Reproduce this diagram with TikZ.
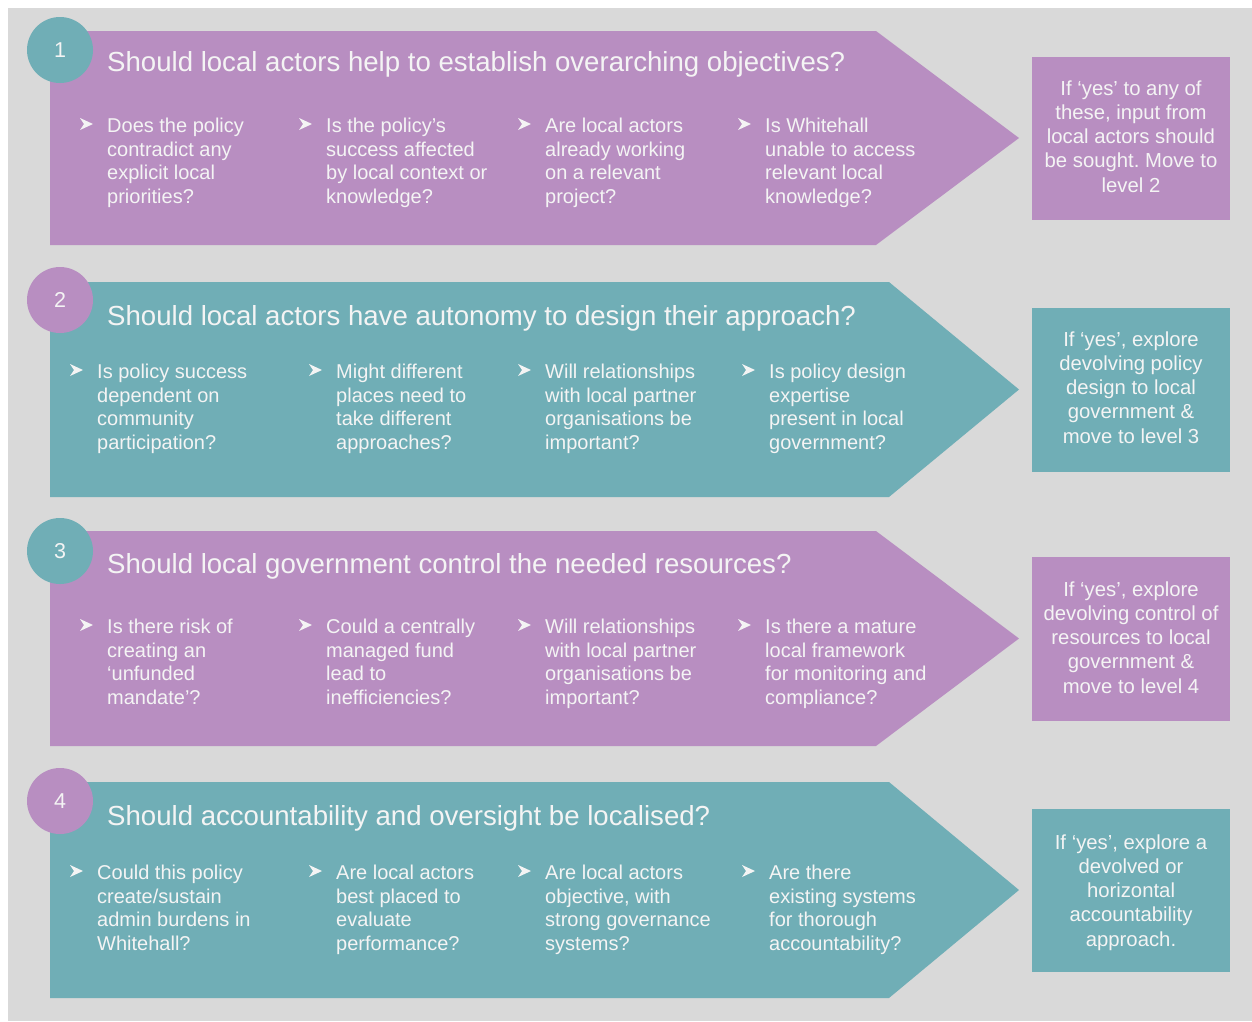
\documentclass[tikz,border=0pt]{standalone}
\usepackage{fontspec}
\setmainfont{Liberation Sans}
\frenchspacing
\definecolor{bggrey}{RGB}{217,217,217}
\definecolor{lilac}{RGB}{184,142,193}
\definecolor{teal}{RGB}{112,174,182}
\definecolor{txt}{RGB}{244,244,244}
\tikzset{
  num/.style={circle,minimum size=66pt,inner sep=0,text=txt,font=\fontsize{21.5}{26}\selectfont},
  title/.style={anchor=base west,inner sep=0,text=txt,font=\fontsize{27.6}{32}\selectfont},
  question/.style={anchor=north west,inner sep=0,align=left,text=txt,font=\fontsize{20}{23.8}\selectfont},
  outcome/.style={anchor=north,inner sep=0,align=center,text=txt,font=\fontsize{20.3}{24.2}\selectfont},
}
% arrowhead bullet placed with its back at (#1,#2)
\newcommand\qbullet[2]{\fill[txt] (#1,#2) +(0,-6) -- +(13,0) -- +(0,6) -- +(4,0) -- cycle;}
\newcommand\qnode[4]{\qbullet{#2}{#3-8}\node[question] (#1) at (#2+27,#3-16.66) {\strut #4};}
\begin{document}
\begin{tikzpicture}[x=1pt,y=-1pt]
\useasboundingbox (0,0) rectangle (1252,1021);
\fill[white] (0,0) rectangle (1252,1021);
\fill[bggrey] (8,8) rectangle (1252,1021);

% ---- stage 1 ----
\fill[lilac] (50,31) -- (876,31) -- (1019,138) -- (876,245) -- (50,245) -- cycle;
\node[num,fill=teal] (n1) at (60,50) {1};
\node[title] (t1) at (107,71) {Should local actors help to establish overarching objectives?};
\qnode{q11}{80}{132}{Does the policy\\contradict any\\explicit local\\priorities?}
\qnode{q12}{299}{132}{Is the policy’s\\success affected\\by local context or\\knowledge?}
\qnode{q13}{518}{132}{Are local actors\\already working\\on a relevant\\project?}
\qnode{q14}{738}{132}{Is Whitehall\\unable to access\\relevant local\\knowledge?}
\fill[lilac] (1032,57) rectangle (1230,220);
\node[outcome] (o1) at (1131,95-16.94) {\strut If ‘yes’ to any of\\these, input from\\local actors should\\be sought. Move to\\level 2};

% ---- stage 2 ----
\fill[teal] (50,282) -- (889,282) -- (1019,389.5) -- (889,497) -- (50,497) -- cycle;
\node[num,fill=lilac] (n2) at (60,300) {2};
\node[title] (t2) at (107,325) {Should local actors have autonomy to design their approach?};
\qnode{q21}{70}{378}{Is policy success\\dependent on\\community\\participation?}
\qnode{q22}{309}{378}{Might different\\places need to\\take different\\approaches?}
\qnode{q23}{518}{378}{Will relationships\\with local partner\\organisations be\\important?}
\qnode{q24}{742}{378}{Is policy design\\expertise\\present in local\\government?}
\fill[teal] (1032,308) rectangle (1230,472);
\node[outcome] (o2) at (1131,346-16.94) {\strut If ‘yes’, explore\\devolving policy\\design to local\\government \&\\move to level 3};

% ---- stage 3 ----
\fill[lilac] (50,531) -- (876,531) -- (1019,638.5) -- (876,746) -- (50,746) -- cycle;
\node[num,fill=teal] (n3) at (60,551) {3};
\node[title] (t3) at (107,573) {Should local government control the needed resources?};
\qnode{q31}{80}{633}{Is there risk of\\creating an\\‘unfunded\\mandate’?}
\qnode{q32}{299}{633}{Could a centrally\\managed fund\\lead to\\inefficiencies?}
\qnode{q33}{518}{633}{Will relationships\\with local partner\\organisations be\\important?}
\qnode{q34}{738}{633}{Is there a mature\\local framework\\for monitoring and\\compliance?}
\fill[lilac] (1032,557) rectangle (1230,721);
\node[outcome] (o3) at (1131,596-16.94) {\strut If ‘yes’, explore\\devolving control of\\resources to local\\government \&\\move to level 4};

% ---- stage 4 ----
\fill[teal] (50,782) -- (889,782) -- (1019,890) -- (889,998) -- (50,998) -- cycle;
\node[num,fill=lilac] (n4) at (60,801) {4};
\node[title] (t4) at (107,825) {Should accountability and oversight be localised?};
\qnode{q41}{70}{879}{Could this policy\\create/sustain\\admin burdens in\\Whitehall?}
\qnode{q42}{309}{879}{Are local actors\\best placed to\\evaluate\\performance?}
\qnode{q43}{518}{879}{Are local actors\\objective, with\\strong governance\\systems?}
\qnode{q44}{742}{879}{Are there\\existing systems\\for thorough\\accountability?}
\fill[teal] (1032,809) rectangle (1230,972);
\node[outcome] (o4) at (1131,849-16.94) {\strut If ‘yes’, explore a\\devolved or\\horizontal\\accountability\\approach.};
\end{tikzpicture}
\end{document}
